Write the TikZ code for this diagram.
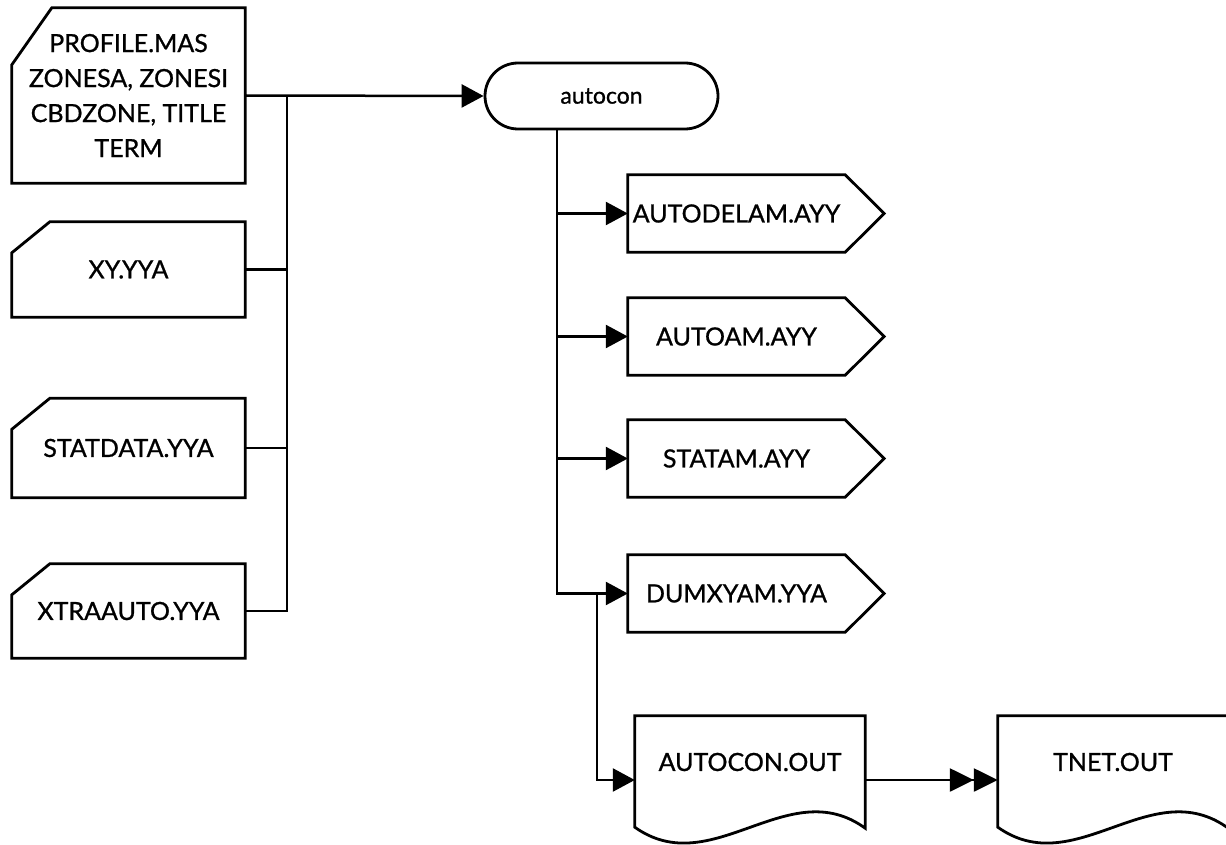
\documentclass[tikz,border=0pt]{standalone}
\usepackage{fontspec}
\setmainfont{Lato}[FakeBold=0.9]
\usetikzlibrary{arrows.meta,calc}
\begin{document}
\begin{tikzpicture}[x=1pt,y=-1pt,
  lbl/.style={inner sep=0pt, font=\fontsize{25}{35}\selectfont, align=center},
  shp/.style={line width=2.8pt, line join=miter},
  con/.style={line width=2.5pt},
  arr/.style={con, -{Triangle[length=22pt,width=23pt]}},
  darr/.style={con, -{Triangle[length=24pt,width=23pt,sep=0pt]Triangle[length=24pt,width=23pt]}}]
\useasboundingbox (0,0) rectangle (1226,845);
\fill[white] (0,0) rectangle (1226,845);

% input cards
\node[lbl, minimum width=233pt, minimum height=175pt] (c1) at (128.5,95.5) {PROFILE.MAS\\ZONESA, ZONESI\\CBDZONE, TITLE\\TERM};
\node[lbl, minimum width=233pt, minimum height=95pt] (c2) at (128.5,269.5) {XY.YYA};
\node[lbl, minimum width=233pt, minimum height=99pt] (c3) at (128.5,448) {STATDATA.YYA};
\node[lbl, minimum width=233pt, minimum height=94pt] (c4) at (128.5,611) {XTRAAUTO.YYA};

\draw[shp] ([xshift=40pt]c1.north west) -- (c1.north east) -- (c1.south east) -- (c1.south west) -- ([yshift=-57pt]c1.north west) -- cycle;
\foreach \n in {c2,c3,c4}
  \draw[shp] ([xshift=38pt]\n.north west) -- (\n.north east) -- (\n.south east) -- (\n.south west) -- ([yshift=-31pt]\n.north west) -- cycle;

% process
\node[lbl, font=\fontsize{23}{28}\selectfont, draw, shp, rounded corners=33pt, minimum width=233pt, minimum height=66pt] (ac) at (601.5,96) {autocon};

% outputs
\node[lbl, minimum width=217pt, minimum height=77pt] (o1) at (736.5,213.5) {AUTODELAM.AYY};
\node[lbl, minimum width=217pt, minimum height=77pt] (o2) at (736.5,336.5) {AUTOAM.AYY};
\node[lbl, minimum width=217pt, minimum height=77pt] (o3) at (736.5,458.5) {STATAM.AYY};
\node[lbl, minimum width=217pt, minimum height=77pt] (o4) at (736.5,593.5) {DUMXYAM.YYA};
\foreach \n in {o1,o2,o3,o4}
  \draw[shp] (\n.north west) -- (\n.north east) -- ([xshift=39pt]\n.east) -- (\n.south east) -- (\n.south west) -- cycle;

% documents
\node[lbl, minimum width=230pt, minimum height=92pt] (d1) at (750,762) {AUTOCON.OUT};
\node[lbl, minimum width=230pt, minimum height=92pt] (d2) at (1113,762) {TNET.OUT};
\foreach \n in {d1,d2}
  \draw[shp] ([yshift=-19pt]\n.south west) -- (\n.north west) -- (\n.north east) -- ([yshift=-20pt]\n.south east)
    .. controls ([xshift=-77pt,yshift=36pt]\n.south east) and ([xshift=-153pt,yshift=-74pt]\n.south east) .. ([yshift=-19pt]\n.south west) -- cycle;

% connectors
\coordinate (bt) at ($(c1.east)+(42pt,0)$);
\draw[arr] (c1.east) -- (ac.west);
\draw[con] (bt) |- (c4.east);
\draw[con] (c2.east) -- (c2.east -| bt);
\draw[con] (c3.east) -- (c3.east -| bt);

\coordinate (v) at ([xshift=-44.5pt]ac.south);
\draw[arr] (v) |- (o4.west);
\draw[arr] (o1.west -| v) -- (o1.west);
\draw[arr] (o2.west -| v) -- (o2.west);
\draw[arr] (o3.west -| v) -- (o3.west);
\coordinate (w) at ($(o4.west -| v)+(40pt,0)$);
\draw[arr] (w) |- ([yshift=-18pt]d1.west);
\draw[darr] ([yshift=-18pt]d1.east) -- ([yshift=-18pt]d2.west);
\end{tikzpicture}
\end{document}
